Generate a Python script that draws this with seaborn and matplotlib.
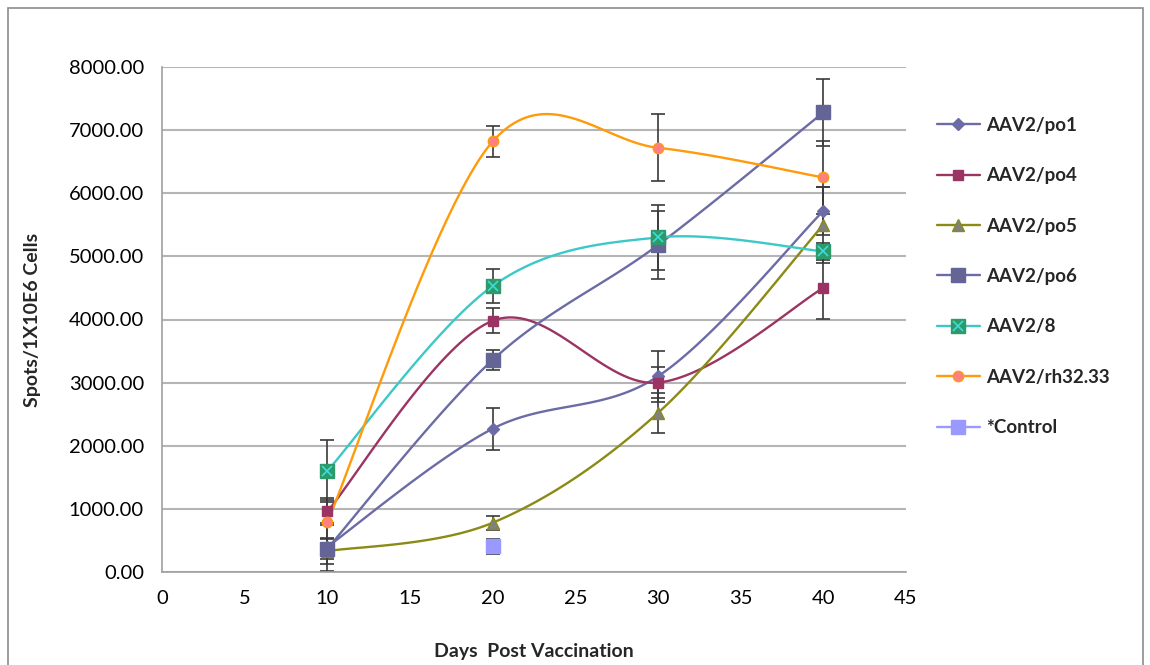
import numpy as np
import matplotlib
matplotlib.use("Agg")
import matplotlib.pyplot as plt
import seaborn as sns
from matplotlib.lines import Line2D
from matplotlib.patches import Rectangle
from matplotlib.legend_handler import HandlerTuple

# data
days = [10, 20, 30, 40]
po1 = [400, 2270, 3100, 5720]
po1_err = [380, 330, 400, 380]
po4 = [960, 3980, 3000, 4500]
po4_err = [210, 200, 250, 490]
po5 = [330, 780, 2520, 5500]
po5_err = [200, 110, 320, 600]
po6 = [370, 3360, 5180, 7280]
po6_err = [170, 160, 540, 530]
aav8 = [1600, 4530, 5300, 5080]
aav8_err = [490, 270, 520, 130]
rh = [790, 6820, 6720, 6250]
rh_err = [350, 250, 530, 580]
control_days = [20]
control = [410]
control_err = [120]

x_ticks = list(range(0, 50, 5))
y_ticks = list(range(0, 9000, 1000))


def smooth(xs, ys, n=40):
    # bezier smoothing like the spreadsheet's "smoothed line"
    p = np.column_stack([xs, ys]).astype(float)
    p = np.vstack([p[0], p, p[-1]])
    out = []
    t = np.linspace(0, 1, n)[:, None]
    for i in range(1, len(p) - 2):
        p0, p1, p2, p3 = p[i - 1], p[i], p[i + 1], p[i + 2]
        c1 = p1 + (p2 - p0) / 6
        c2 = p2 - (p3 - p1) / 6
        seg = ((1 - t) ** 3) * p1 + 3 * ((1 - t) ** 2) * t * c1 + 3 * (1 - t) * t ** 2 * c2 + t ** 3 * p2
        out.append(seg)
    out = np.vstack(out)
    return out[:, 0], out[:, 1]


sns.set_style("white")
plt.rcParams['font.family'] = ['Lato', 'DejaVu Sans']

fig = plt.figure(figsize=(11.5, 6.65), dpi=100)
ax = fig.add_axes([162 / 1150, 1 - 572 / 665, (906 - 162) / 1150, (572 - 67) / 665])

series = [
    ("AAV2/po1", po1, po1_err, dict(color="#6b6ba6", marker="D", mfc="#6b6ba6", mec="#6b6ba6", ms=6)),
    ("AAV2/po4", po4, po4_err, dict(color="#9b3462", marker="s", mfc="#9b3462", mec="#9b3462", ms=7.5)),
    ("AAV2/po5", po5, po5_err, dict(color="#8a8a14", marker="^", mfc="#808080", mec="#8a8a14", ms=8)),
    ("AAV2/po6", po6, po6_err, dict(color="#6b6ba6", marker="s", mfc="#646496", mec="#646496", ms=10.5)),
    ("AAV2/8", aav8, aav8_err, dict(color="#3cc8c8", marker="s", mfc="#2e9a6a", mec="#2e9a6a", ms=10)),
    ("AAV2/rh32.33", rh, rh_err, dict(color="#ff9a0a", marker="o", mfc="#ff8080", mec="#ff9a0a", ms=7.5)),
]

handles = []
labels = []
for name, vals, err, st in series:
    ax.errorbar(days, vals, yerr=err, fmt="none", ecolor="#3a3a3a", elinewidth=1.2,
                capsize=5, capthick=1.2, zorder=2)
for name, vals, err, st in series:
    sx, sy = smooth(days, vals)
    ax.plot(sx, sy, color=st["color"], lw=1.7, zorder=3)
for name, vals, err, st in series:
    ax.plot(days, vals, linestyle="none", marker=st["marker"], ms=st["ms"],
            mfc=st["mfc"], mec=st["mec"], zorder=4)
    h = Line2D([], [], color=st["color"], lw=1.7, marker=st["marker"], ms=st["ms"],
               mfc=st["mfc"], mec=st["mec"])
    if name == "AAV2/8":
        ax.plot(days, vals, linestyle="none", marker="x", ms=7, mew=1.2, color="#3cdcdc", zorder=5)
        hx = Line2D([], [], linestyle="none", marker="x", ms=7, mew=1.2, color="#3cdcdc")
        h = (h, hx)
    handles.append(h)
    labels.append(name)

ax.errorbar(control_days, control, yerr=control_err, fmt="none", ecolor="#3a3a3a",
            elinewidth=1.2, capsize=5, capthick=1.2, zorder=2)
ax.plot(control_days, control, linestyle="none", marker="s", ms=9.5,
        mfc="#9999ff", mec="#9999ff", zorder=4)
handles.append(Line2D([], [], color="#9999ff", lw=1.7, marker="s", ms=9.5, mfc="#9999ff", mec="#9999ff"))
labels.append("*Control")

ax.set_xlim(0, 45)
ax.set_ylim(0, 8000)
ax.set_xticks(x_ticks)
ax.set_yticks(y_ticks)
ax.set_yticklabels([f"{v:.2f}" for v in y_ticks])
ax.yaxis.grid(True, color="#b5b5b5", lw=1.5)
ax.set_axisbelow(True)
for s in ["top", "right"]:
    ax.spines[s].set_visible(False)
for s in ["left", "bottom"]:
    ax.spines[s].set_color("#a0a0a0")
    ax.spines[s].set_linewidth(1.2)
ax.tick_params(axis="both", direction="out", length=7, width=1.2, color="#a0a0a0",
               labelsize=14.5, labelcolor="black", pad=6)
ax.set_xlabel("Days  Post Vaccination", fontsize=14, fontweight="bold", labelpad=26)
ax.set_ylabel("Spots/1X10E6 Cells", fontsize=14, fontweight="bold", labelpad=20)

leg = fig.legend(handles, labels, loc="upper left", bbox_to_anchor=(920 / 1150, 1 - 100 / 665),
                 frameon=False, labelspacing=1.78, handlelength=2.3,
                 handletextpad=0.3, prop={"weight": "bold", "size": 13.5},
                 handler_map={tuple: HandlerTuple(ndivide=1, pad=0)})

fig.patches.append(Rectangle((8 / 1150, -0.05), (1143 - 8) / 1150, 1.05 - 8 / 665,
                             transform=fig.transFigure, fill=False, ec="#8c8c8c", lw=1.2))

fig.savefig("out.png", dpi=100)
